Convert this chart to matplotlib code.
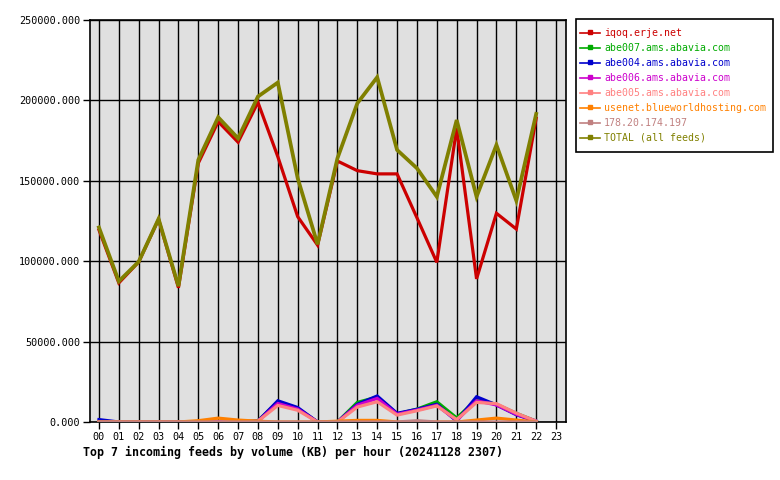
import matplotlib
matplotlib.use("Agg")
import matplotlib.pyplot as plt
from matplotlib.lines import Line2D
from matplotlib.patches import Rectangle
import numpy as np

hours = ["00","01","02","03","04","05","06","07","08","09","10","11",
         "12","13","14","15","16","17","18","19","20","21","22","23"]

feeds = ["iqoq.erje.net", "abe007.ams.abavia.com", "abe004.ams.abavia.com",
         "abe006.ams.abavia.com", "abe005.ams.abavia.com",
         "usenet.blueworldhosting.com", "178.20.174.197", "TOTAL (all feeds)"]
colors = ["#cc0000", "#00aa00", "#0000cc", "#cc00cc", "#ff8080",
          "#ff8000", "#c08080", "#808000"]

iqoq    = [119500, 86500, 99500, 126000, 83500, 161000, 186800, 174000, 198800, 165000, 127700, 110000,
           162300, 156300, 154300, 154300, 127000, 99300, 182700, 89000, 129800, 120000, 188900]
abe007  = [0, 0, 0, 0, 0, 0, 0, 0, 800, 12500, 8500, 0,
           0, 12200, 15500, 5000, 8000, 12600, 2500, 14000, 11000, 5400, 500]
abe004  = [1500, 0, 0, 0, 0, 0, 0, 0, 500, 13200, 9000, 0,
           0, 11000, 16200, 5400, 7900, 11000, 600, 15700, 10600, 4500, 500]
abe006  = [0, 0, 0, 0, 0, 0, 0, 0, 500, 11500, 8000, 0,
           0, 10400, 14700, 4800, 7400, 10400, 1000, 13200, 10600, 4800, 500]
abe005  = [0, 0, 0, 0, 0, 0, 0, 500, 500, 10300, 7300, 0,
           0, 9300, 12600, 4300, 7000, 10000, 1500, 12200, 11400, 5500, 500]
usenet  = [0, 0, 0, 0, 0, 800, 2400, 1200, 500, 0, 0, 0,
           500, 1000, 1000, 0, 0, 0, 0, 1200, 2400, 1200, 0]
ip178   = [0, 0, 0, 0, 0, 0, 0, 0, 0, 0, 0, 0,
           0, 0, 0, 0, 800, 0, 0, 0, 0, 0, 0]
total   = [121000, 87500, 99700, 126300, 84500, 163000, 189500, 176400, 202400, 211100, 151600, 110500,
           164000, 198200, 214400, 169200, 157800, 140100, 187800, 140100, 172300, 137700, 191600]

series = [iqoq, abe007, abe004, abe006, abe005, usenet, ip178, total]

plt.rcParams['font.family'] = ['DejaVu Sans Mono']

W, H = 780, 480
fig = plt.figure(figsize=(W/100, H/100), dpi=100)
ax = fig.add_axes([90/W, 58/H, 476/W, 402/H])
ax.set_facecolor("#e0e0e0")

x = np.arange(len(hours))
for s, c in zip(series, colors):
    lw = 2.7 if c == "#808000" else 2.3
    ax.plot(x[:len(s)], s, color=c, lw=lw, solid_joinstyle='miter', zorder=3)

ax.set_xlim(-0.45, 23.5)
ax.set_ylim(0, 250000)
ax.set_xticks(x)
ax.set_xticklabels(hours)
yt = [0, 50000, 100000, 150000, 200000, 250000]
ax.set_yticks(yt)
ax.set_yticklabels(["%.3f" % v for v in yt])
ax.grid(True, color="black", lw=1)
ax.set_axisbelow(True)
for sp in ax.spines.values():
    sp.set_color("black")
    sp.set_linewidth(1.2)
ax.tick_params(axis='both', labelsize=7.3, length=5, width=1, colors='black', pad=2)

# legend drawn manually in figure pixel coordinates
def fx(px):
    return px / W
def fy(py):
    return 1 - py / H

fig.patches.append(Rectangle((fx(576), fy(152)), fx(773) - fx(576), fy(19) - fy(152),
                             transform=fig.transFigure, facecolor='white',
                             edgecolor='black', lw=1.2, zorder=5))
for i, (name, c) in enumerate(zip(feeds, colors)):
    yy = 33 + 15 * i
    fig.lines.append(Line2D([fx(580), fx(600)], [fy(yy), fy(yy)], transform=fig.transFigure,
                            color=c, lw=1.2, zorder=6))
    fig.lines.append(Line2D([fx(590)], [fy(yy - 1)], transform=fig.transFigure,
                            color=c, marker='s', markersize=2.5, zorder=6))
    fig.text(fx(604), fy(yy), name, color=c, fontsize=7.1, va='center', ha='left', zorder=7)

fig.text(83/W, 1 - 452/H, "Top 7 incoming feeds by volume (KB) per hour (20241128 2307)",
         fontsize=8.4, fontweight='bold', va='center', ha='left')

fig.savefig("out.png", dpi=100)
